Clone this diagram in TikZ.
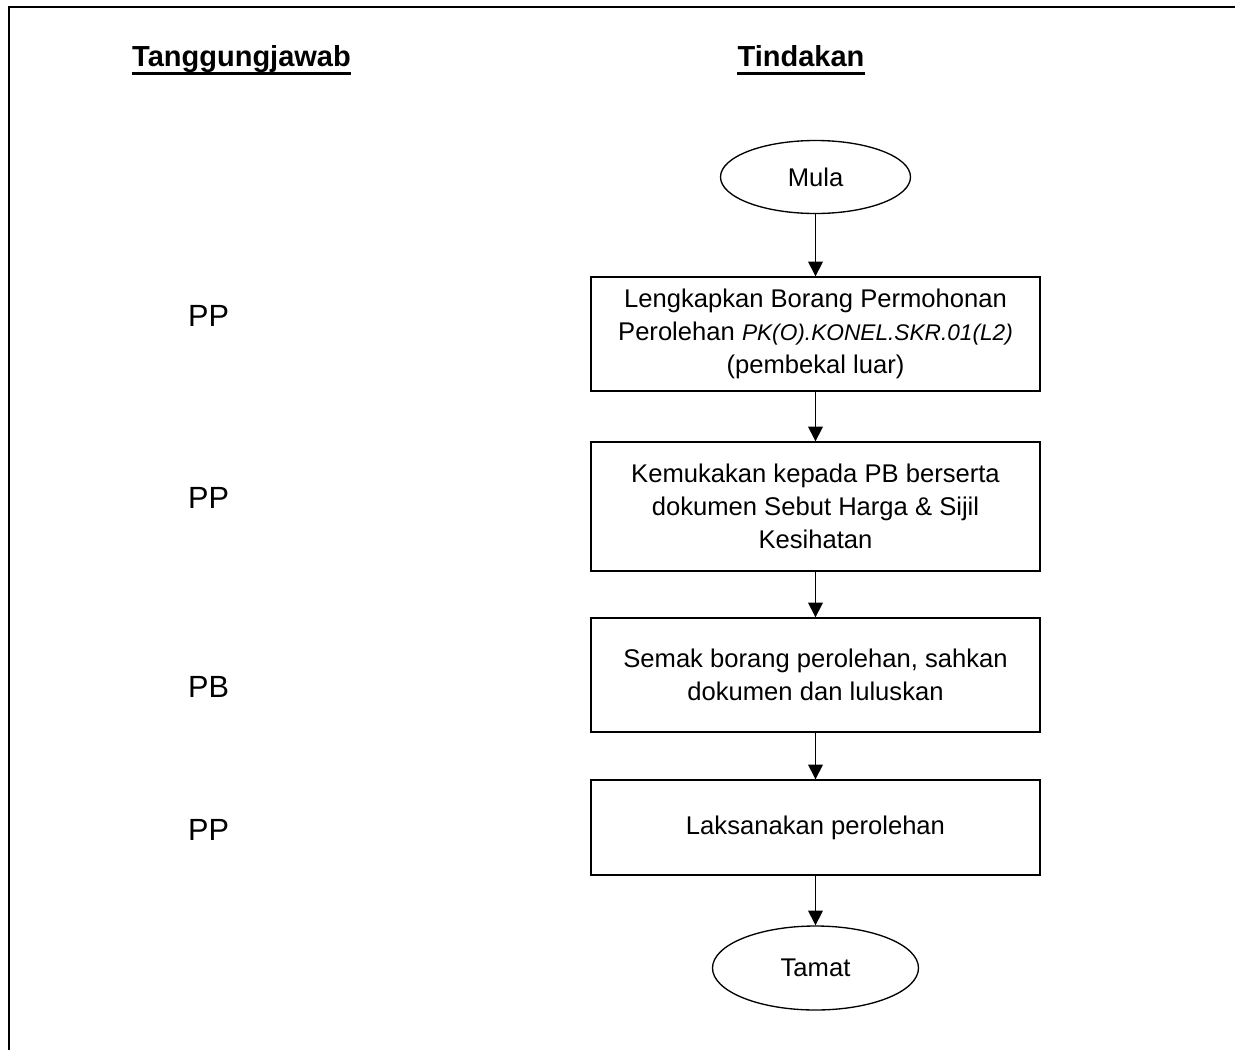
\documentclass[tikz,border=0pt]{standalone}
\usepackage{fontspec}
\setmainfont{Liberation Sans}
\usetikzlibrary{shapes.geometric,arrows.meta}
\begin{document}
\begin{tikzpicture}[x=0.75pt,y=-0.75pt,
 boxnode/.style={draw,line width=1pt,minimum width=449*0.75pt,align=center,inner sep=0pt,font=\fontsize{19.2pt}{24.75pt}\selectfont},
 termnode/.style={draw,ellipse,line width=1pt,inner sep=0pt,font=\fontsize{19.2pt}{24.75pt}\selectfont},
 lbl/.style={anchor=base,inner sep=0pt,font=\fontsize{23pt}{27pt}\selectfont},
 hdr/.style={anchor=base,inner sep=0pt,font=\fontsize{21.75pt}{26pt}\selectfont\bfseries},
 arr/.style={line width=0.9pt,-{Triangle[length=11pt,width=11pt]}},
 frameline/.style={line width=1.6pt},
 uline/.style={line width=2.5pt}]
\useasboundingbox (0,0) rectangle (1235,1050);
\coordinate (fa) at (9,1050);
\coordinate (fb) at (9,7);
\coordinate (fc) at (1235,7);
\draw[frameline] (fa) -- (fb) -- (fc);
% headers
\node[hdr] (h1) at (241.5,66) {Tanggungjawab};
\node[hdr] (h2) at (801,66) {Tindakan};
\draw[uline] ([yshift=-5.5pt]h1.base west) -- ([yshift=-5.5pt]h1.base east);
\draw[uline] ([yshift=-5.5pt]h2.base west) -- ([yshift=-5.5pt]h2.base east);
% flow
\node[termnode,minimum width=190*0.75pt,minimum height=73*0.75pt] (mula) at (815.5,177) {Mula};
\node[boxnode,minimum height=114*0.75pt] (b1) at (815.5,334) {Lengkapkan Borang Permohonan\\Perolehan {\fontsize{17pt}{24.75pt}\selectfont\itshape PK(O).KONEL.SKR.01(L2)}\\(pembekal luar)};
\node[boxnode,minimum height=129*0.75pt] (b2) at (815.5,506.5) {Kemukakan kepada PB berserta\\dokumen Sebut Harga \& Sijil\\Kesihatan};
\node[boxnode,minimum height=114*0.75pt] (b3) at (815.5,675) {Semak borang perolehan, sahkan\\dokumen dan luluskan};
\node[boxnode,minimum height=95*0.75pt] (b4) at (815.5,827.5) {Laksanakan perolehan};
\node[termnode,minimum width=206*0.75pt,minimum height=84*0.75pt] (tamat) at (815.5,968) {Tamat};
\draw[arr] (mula) -- (b1);
\draw[arr] (b1) -- (b2);
\draw[arr] (b2) -- (b3);
\draw[arr] (b3) -- (b4);
\draw[arr] (b4) -- (tamat);
% responsibilities
\node[lbl] (r1) at (208.5,326) {PP};
\node[lbl] (r2) at (208.5,508) {PP};
\node[lbl] (r3) at (208.5,697) {PB};
\node[lbl] (r4) at (208.5,840) {PP};
\end{tikzpicture}
\end{document}
